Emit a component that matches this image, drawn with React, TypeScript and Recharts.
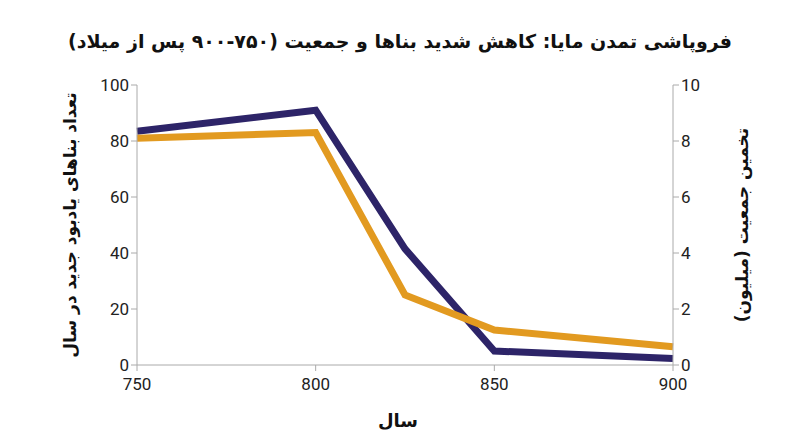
import { LineChart, Line, XAxis, YAxis } from "recharts";

const years = [750, 800, 825, 850, 900];
const monuments = [83.5, 91, 41.5, 5, 2.3];
const population = [8.1, 8.3, 2.5, 1.25, 0.65];
const leftTicks = [0, 20, 40, 60, 80, 100];
const rightTicks = [0, 2, 4, 6, 8, 10];
const yearTicks = [750, 800, 850, 900];

const title = "فروپاشی تمدن مایا: کاهش شدید بناها و جمعیت (۷۵۰-۹۰۰ پس از میلاد)";
const leftTitle = "تعداد بناهای یادبود جدید در سال";
const rightTitle = "تخمین جمعیت (میلیون)";
const xTitle = "سال";

const data = years.map((year, i) => ({
  year,
  monuments: monuments[i],
  population: population[i],
}));

const font = "Roboto, 'DejaVu Sans', sans-serif";
const tick = { fill: "#222", fontSize: 17, fontFamily: font };
const axisLine = { stroke: "#aaa" };

const sideTitle = {
  position: "absolute" as const,
  top: 225,
  transform: "translate(-50%, -50%) rotate(-90deg)",
  whiteSpace: "nowrap" as const,
  fontSize: 17,
  fontWeight: "bold",
};

export default function App() {
  return (
    <div
      style={{
        position: "fixed",
        left: 0,
        top: 0,
        width: 800,
        height: 447,
        background: "#fff",
        fontFamily: "'DejaVu Sans', sans-serif",
        color: "#111",
      }}
    >
      <div
        dir="rtl"
        style={{
          position: "absolute",
          top: 30,
          left: 0,
          width: 800,
          textAlign: "center",
          fontSize: 19,
          fontWeight: "bold",
        }}
      >
        {title}
      </div>
      <LineChart
        width={800}
        height={447}
        data={data}
        margin={{ top: 85, right: 60, bottom: 52, left: 60 }}
      >
        <XAxis
          dataKey="year"
          type="number"
          domain={[750, 900]}
          ticks={yearTicks}
          tick={{ ...tick, dy: 5 }}
          axisLine={axisLine}
          tickLine={axisLine}
          tickSize={6}
          height={30}
        />
        <YAxis
          yAxisId="left"
          domain={[0, 100]}
          ticks={leftTicks}
          tick={tick}
          axisLine={axisLine}
          tickLine={axisLine}
          tickSize={6}
          width={77}
        />
        <YAxis
          yAxisId="right"
          orientation="right"
          domain={[0, 10]}
          ticks={rightTicks}
          tick={tick}
          axisLine={axisLine}
          tickLine={axisLine}
          tickSize={6}
          width={67}
        />
        <Line
          yAxisId="left"
          type="linear"
          dataKey="monuments"
          stroke="#2d2468"
          strokeWidth={7}
          dot={false}
          isAnimationActive={false}
        />
        <Line
          yAxisId="right"
          type="linear"
          dataKey="population"
          stroke="#e29a20"
          strokeWidth={7}
          dot={false}
          isAnimationActive={false}
        />
      </LineChart>
      <div dir="rtl" style={{ ...sideTitle, left: 70 }}>
        {leftTitle}
      </div>
      <div dir="rtl" style={{ ...sideTitle, left: 742 }}>
        {rightTitle}
      </div>
      <div
        dir="rtl"
        style={{
          position: "absolute",
          left: 398,
          top: 420,
          transform: "translate(-50%, -50%)",
          whiteSpace: "nowrap",
          fontSize: 18,
          fontWeight: "bold",
        }}
      >
        {xTitle}
      </div>
    </div>
  );
}
